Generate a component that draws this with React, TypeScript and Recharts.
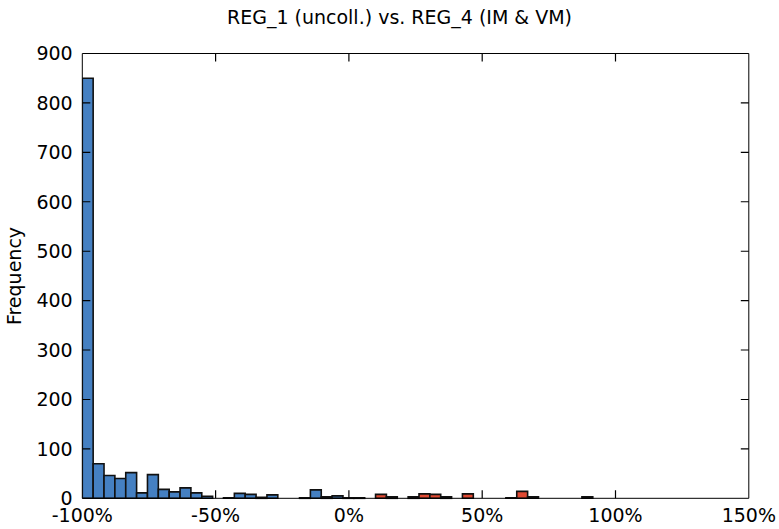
import React from 'react';
import { BarChart, Bar, XAxis, YAxis, Cell, ReferenceLine } from 'recharts';

// histogram: 50 bins from -100% to ~103.7%
const binStart = -100;
const binWidth = 4.074;
const counts = [
  850, 70, 46, 40, 52, 11, 48, 18, 13, 21,
  11, 4, 0, 1, 10, 8, 2, 7, 0, 0,
  1, 17, 3, 5, 1, 1, 0, 8, 3, 0,
  3, 9, 8, 3, 0, 9, 0, 0, 0, 1,
  14, 3, 0, 0, 0, 0, 3, 0, 0, 0,
];
const xTicks = [-100, -50, 0, 50, 100, 150];
const yTicks = [0, 100, 200, 300, 400, 500, 600, 700, 800, 900];
const X_MIN = -100;
const X_MAX = 150;

const data = counts.map((c, i) => ({ x: binStart + binWidth * (i + 0.5), count: c }));

const BLUE = '#4580c2';
const RED = '#e04a33';
const FONT = 'DejaVu Sans';

// plot frame (px)
const L = 82.3;
const R = 748.8;
const T = 53.5;
const B = 498.3;
const TICK = 8;

const BottomTick = (p: any) => (
  <text x={p.payload.coordinate} y={B + 24} textAnchor="middle" fontSize={19} fontFamily={FONT} fill="#000">
    {p.payload.value}%
  </text>
);

const LeftTick = (p: any) => (
  <text x={L - 9.6} y={p.payload.coordinate} dy="0.36em" textAnchor="end" fontSize={19} fontFamily={FONT} fill="#000">
    {p.payload.value}
  </text>
);

const noTick = () => <g />;

// y ticks: the two inward ends of a horizontal reference line
const YTickEnds = (p: any) => {
  const lft = Math.min(p.x1, p.x2);
  const rgt = Math.max(p.x1, p.x2);
  return (
    <path d={`M${lft},${p.y1}H${lft + TICK}M${rgt},${p.y1}H${rgt - TICK}`} stroke="#000" strokeWidth={1.1} fill="none" />
  );
};

// x tick marks on the top and bottom frame lines
const xTickPath = xTicks
  .slice(1, -1)
  .map((v) => {
    const px = L + ((v - X_MIN) / (X_MAX - X_MIN)) * (R - L);
    return `M${px},${T}V${T + TICK}M${px},${B}V${B - TICK}`;
  })
  .join('');

export default function App() {
  return (
    <div style={{ position: 'absolute', left: 0, top: 0, width: 779, height: 529, background: '#fff' }}>
      <BarChart width={779} height={529} data={data} margin={{ top: 0, right: 0, left: 0, bottom: 0 }}>
        <XAxis
          xAxisId="b"
          type="number"
          dataKey="x"
          domain={[X_MIN, X_MAX]}
          ticks={xTicks}
          allowDataOverflow
          height={529 - B}
          tickLine={false}
          stroke="#000"
          tick={BottomTick}
          interval={0}
        />
        <XAxis
          xAxisId="t"
          orientation="top"
          type="number"
          dataKey="x"
          domain={[X_MIN, X_MAX]}
          ticks={xTicks}
          allowDataOverflow
          height={T}
          tickLine={false}
          stroke="#000"
          tick={noTick}
        />
        <YAxis
          yAxisId="l"
          domain={[0, 900]}
          ticks={yTicks}
          width={L}
          tickLine={false}
          stroke="#000"
          tick={LeftTick}
          interval={0}
        />
        <YAxis
          yAxisId="r"
          orientation="right"
          domain={[0, 900]}
          ticks={yTicks}
          width={779 - R}
          tickLine={false}
          stroke="#000"
          tick={noTick}
        />
        <Bar
          xAxisId="b"
          yAxisId="l"
          dataKey="count"
          barSize={10.86}
          stroke="#111"
          strokeWidth={1.6}
          isAnimationActive={false}
        >
          {data.map((d, i) => (
            <Cell key={i} fill={d.x > 0 ? RED : BLUE} />
          ))}
        </Bar>
        {yTicks.slice(1, -1).map((v) => (
          <ReferenceLine
            key={`hy${v}`}
            xAxisId="b"
            yAxisId="l"
            y={v}
            stroke="#000"
            ifOverflow="visible"
            shape={YTickEnds}
          />
        ))}
      </BarChart>
      <svg width={779} height={529} style={{ position: 'absolute', left: 0, top: 0, pointerEvents: 'none' }}>
        <path d={xTickPath} stroke="#000" strokeWidth={1.2} fill="none" />
        <text x={399.5} y={24} textAnchor="middle" fontSize={19} fontFamily={FONT} fill="#000">
          REG_1 (uncoll.) vs. REG_4 (IM &amp; VM)
        </text>
        <text
          x={21}
          y={276}
          transform="rotate(-90 21 276)"
          textAnchor="middle"
          fontSize={19}
          fontFamily={FONT}
          fill="#000"
        >
          Frequency
        </text>
      </svg>
    </div>
  );
}
